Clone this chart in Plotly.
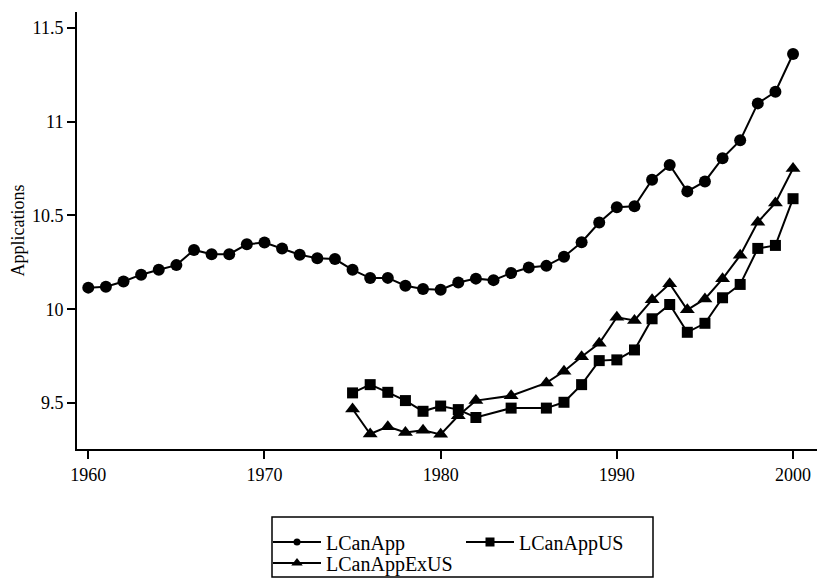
import plotly.graph_objects as go

years_app = list(range(1960, 2001))
lcanapp = [10.115, 10.12, 10.148, 10.184, 10.21, 10.235, 10.316, 10.293, 10.293, 10.346,
           10.355, 10.323, 10.29, 10.272, 10.267, 10.21, 10.166, 10.167, 10.125, 10.108,
           10.104, 10.142, 10.163, 10.155, 10.193, 10.222, 10.231, 10.28, 10.357, 10.462,
           10.543, 10.549, 10.69, 10.769, 10.628, 10.681, 10.805, 10.9, 11.097, 11.159,
           11.36]

years_us = [1975, 1976, 1977, 1978, 1979, 1980, 1981, 1982, 1984, 1986, 1987, 1988,
            1989, 1990, 1991, 1992, 1993, 1994, 1995, 1996, 1997, 1998, 1999, 2000]
lcanapp_us = [9.554, 9.598, 9.557, 9.513, 9.456, 9.484, 9.465, 9.423, 9.473, 9.473,
              9.504, 9.598, 9.726, 9.730, 9.783, 9.949, 10.025, 9.877, 9.925, 10.061,
              10.132, 10.324, 10.340, 10.589]
lcanapp_exus = [9.468, 9.335, 9.374, 9.343, 9.355, 9.333, 9.432, 9.513, 9.539, 9.607,
                9.669, 9.747, 9.818, 9.957, 9.940, 10.050, 10.136, 9.997, 10.055, 10.162,
                10.287, 10.464, 10.566, 10.750]

x_ticks = [1960, 1970, 1980, 1990, 2000]
y_ticks = [9.5, 10, 10.5, 11, 11.5]
y_tick_text = ["9.5", "10", "10.5", "11", "11.5"]

names = ["LCanApp", "LCanAppUS", "LCanAppExUS"]
symbols = ["circle", "square", "triangle-up"]
plot_sizes = [12, 11, 13]
legend_sizes = [7, 9, 10]
legend_ids = ["legend", "legend2", "legend3"]

INK = "#000000"
FONT = "Liberation Serif, Times New Roman, serif"

fig = go.Figure()
series = [(years_app, lcanapp), (years_us, lcanapp_us), (years_us, lcanapp_exus)]
for (xs, ys), sym, sz in zip(series, symbols, plot_sizes):
    fig.add_trace(go.Scatter(
        x=xs, y=ys, mode="lines+markers", showlegend=False,
        line=dict(color=INK, width=2),
        marker=dict(symbol=sym, size=sz, color=INK),
    ))

# legend-only entries
for name, sym, sz, lid in zip(names, symbols, legend_sizes, legend_ids):
    fig.add_trace(go.Scatter(
        x=[None], y=[None], mode="lines+markers", name=name, legend=lid,
        line=dict(color=INK, width=2),
        marker=dict(symbol=sym, size=sz, color=INK),
    ))

# page body adds an 8px offset; figure is sized so it ends at the window edge
OFF = 8
W, H = 820, 570
L, T, R, B = 69, 4, 11, 129
pw, ph = W - L - R, H - T - B

def px_x(p):  # screen pixel -> paper x
    return (p - OFF - L) / pw

def px_y(p):  # screen pixel -> paper y
    return (H - B - (p - OFF)) / ph

legend_common = dict(
    orientation="v", xanchor="left", yanchor="middle",
    font=dict(family=FONT, size=20, color=INK),
    bgcolor="rgba(0,0,0,0)", borderwidth=0, itemwidth=48,
)

fig.update_layout(
    width=W, height=H,
    margin=dict(l=L, r=R, t=T, b=B, autoexpand=False),
    plot_bgcolor="white", paper_bgcolor="white",
    font=dict(family=FONT, color=INK),
    legend=dict(x=px_x(268), y=px_y(542), **legend_common),
    legend2=dict(x=px_x(461), y=px_y(542), **legend_common),
    legend3=dict(x=px_x(268), y=px_y(563), **legend_common),
    xaxis=dict(
        range=[1959.36, 2001.36], tickvals=x_ticks, ticks="outside", ticklen=8,
        tickwidth=1.5, tickcolor=INK, showline=True, linecolor=INK, linewidth=2,
        showgrid=False, zeroline=False, tickfont=dict(family=FONT, size=18, color=INK),
    ),
    yaxis=dict(
        range=[9.255, 11.584], tickvals=y_ticks, ticktext=y_tick_text, ticks="outside",
        ticklen=8, tickwidth=1.5, tickcolor=INK, showline=True, linecolor=INK,
        linewidth=2, showgrid=False, zeroline=False,
        tickfont=dict(family=FONT, size=18, color=INK),
        title=dict(text="Applications", font=dict(family=FONT, size=18, color=INK), standoff=10),
    ),
    shapes=[dict(type="rect", xref="paper", yref="paper",
                 x0=px_x(272), x1=px_x(653), y0=px_y(577), y1=px_y(517),
                 line=dict(color=INK, width=1.5))],
)

fig.write_html("out.html")
